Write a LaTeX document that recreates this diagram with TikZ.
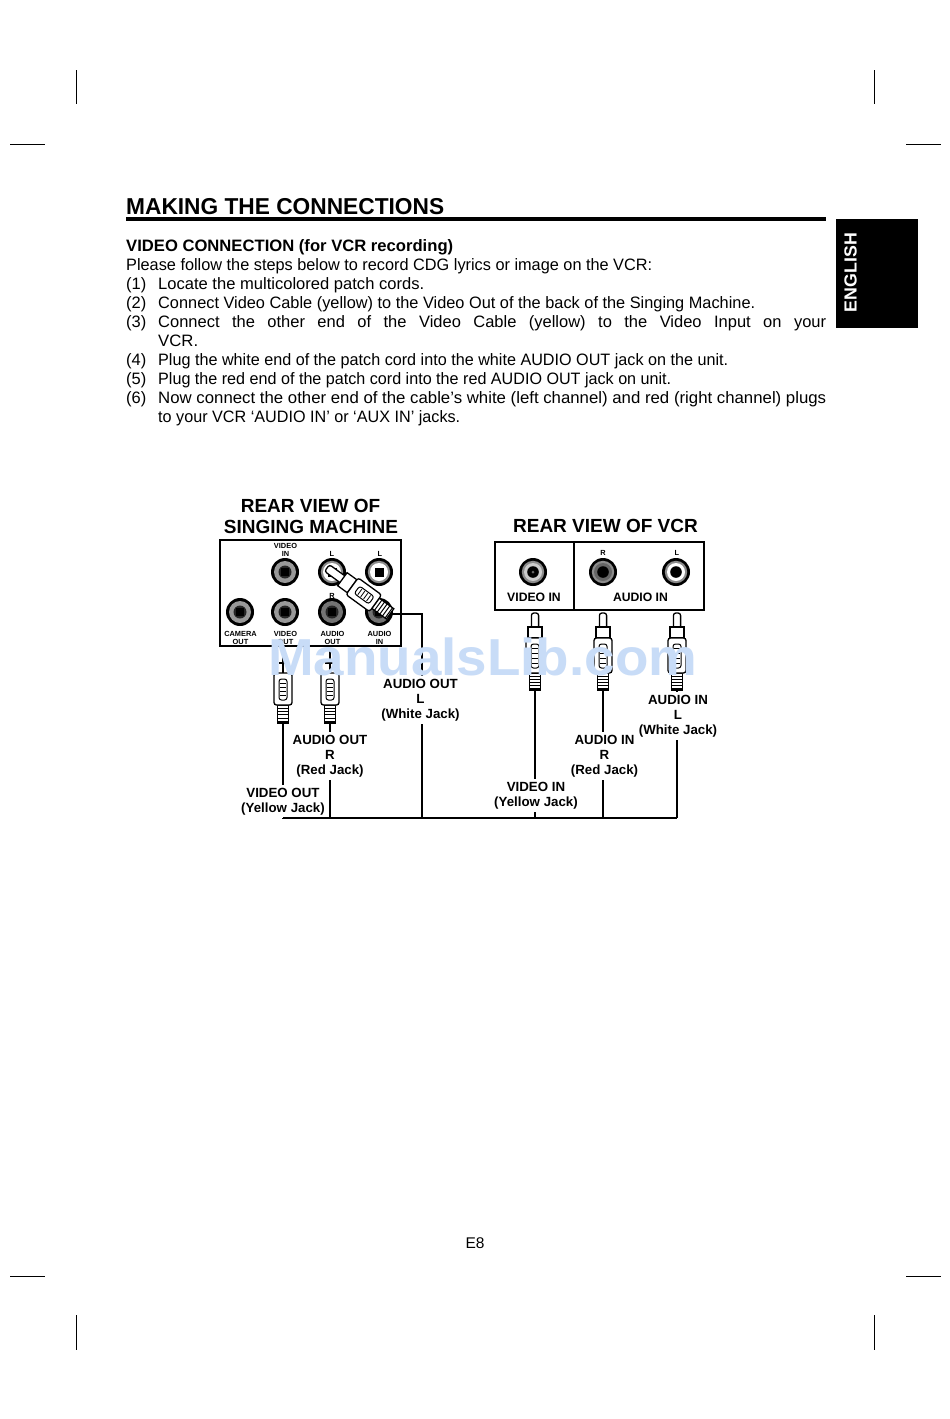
\documentclass[tikz,border=0pt]{standalone}
\usepackage{graphicx}
\usepackage{fontspec}
\setmainfont{Liberation Sans}
\tikzset{
  wire/.style={draw=black,line width=2pt},
  busline/.style={draw=black,line width=2.8pt},
  crop/.style={draw=black,line width=0.9pt},
  frame/.style={draw=black,line width=2pt},
  plugpart/.style={draw=black,fill=white,line width=1.3pt},
  bodytxt/.style={anchor=base west,inner sep=0pt,font=\fontsize{16.5}{19}\selectfont},
  lab/.style={anchor=north,align=center,inner xsep=0pt,inner ysep=3pt,font=\bfseries\fontsize{13.3}{15}\selectfont},
  tiny/.style={anchor=base,align=center,inner sep=0pt,font=\bfseries\fontsize{7.4}{9}\selectfont},
  panel/.style={anchor=base,inner sep=0pt,font=\bfseries\fontsize{12.2}{15}\selectfont},
  head/.style={anchor=base,inner sep=0pt,font=\bfseries\fontsize{19}{21}\selectfont},
}
\definecolor{wm}{RGB}{200,220,247}
% fitted line of text: name, x, baseline y, width, text
\newcommand{\fitline}[5]{\node[bodytxt] (#1) at (#2,#3) {\resizebox{#4pt}{\height}{#5}};}
\newcommand{\fitbold}[5]{\node[bodytxt] (#1) at (#2,#3) {\bfseries\resizebox{#4pt}{\height}{#5}};}
\newcommand{\justline}[5]{\node[bodytxt] (#1) at (#2,#3) {\makebox[#4pt][s]{#5}};}
% jacks: x, y, ring colour
\newcommand{\jackdark}[3]{%
  \fill[black] (#1,#2) circle (14);
  \fill[#3] (#1,#2) circle (11);
  \fill[black!85] (#1,#2) circle (6.5);
  \fill[black] (#1-4,#2-4) rectangle (#1+4,#2+4);}
\newcommand{\jacklight}[3]{%
  \fill[black] (#1,#2) circle (14);
  \fill[black!45] (#1,#2) circle (11.2);
  \fill[#3] (#1,#2) circle (9);
  \fill[black] (#1-4.5,#2-4.5) rectangle (#1+4.5,#2+4.5);}
\newcommand{\jackround}[3]{%
  \fill[black] (#1,#2) circle (14);
  \fill[black!45] (#1,#2) circle (11.2);
  \fill[#3] (#1,#2) circle (9);
  \fill[black] (#1,#2) circle (5.8);}
% plug parts, local y runs along the plug
\newcommand{\plugbody}[3]{% start y, body length, stripe length
  \pgfmathsetmacro{\pa}{#1}\pgfmathsetmacro{\pb}{#1+#2}\pgfmathsetmacro{\pc}{#1+#2+#3}
  \filldraw[plugpart] (-5.5,\pb) rectangle (5.5,\pc);
  \foreach \k in {1,2,3,4,5} {\draw[line width=1pt] (-5.5,{\pb+\k*#3/5.5}) -- (5.5,{\pb+\k*#3/5.5});}
  \filldraw[plugpart,rounded corners=2.5pt] (-9,\pa) rectangle (9,\pb);
  \filldraw[plugpart,line width=1pt,rounded corners=2.5pt] (-4,{\pa+6}) rectangle (4,{\pb-5});
  \foreach \k in {1,2,3,4} {\draw[line width=.8pt] (-3,{\pa+6+\k*(#2-11)/5}) -- (3,{\pa+6+\k*(#2-11)/5});}
}
\newcommand{\plughead}[2]{% pin length, collar length
  \filldraw[plugpart,rounded corners=2.5pt] (-3.6,0) rectangle (3.6,{#1+3});
  \filldraw[plugpart] (-7,#1) rectangle (7,{#1+#2});
}
\begin{document}
\begin{tikzpicture}[x=1pt,y=-1pt]
\useasboundingbox (0,0) rectangle (950,1419);
\fill[white] (0,0) rectangle (950,1419);

% crop marks
\foreach \cx in {76,874} {
  \draw[crop] (\cx,70) -- (\cx,104);
  \draw[crop] (\cx,1315) -- (\cx,1350);
}
\foreach \cy in {144,1276} {
  \draw[crop] (10,\cy) -- (45,\cy);
  \draw[crop] (906,\cy) -- (941,\cy);
}

% heading
\node[anchor=base west,inner sep=0pt,font=\bfseries\fontsize{23}{26}\selectfont] (title) at (126,214.5) {\resizebox{318pt}{\height}{MAKING THE CONNECTIONS}};
\coordinate (ruleL) at (126,218.5);
\coordinate (ruleR) at (826,218.5);
\draw[line width=4pt] (ruleL) -- (ruleR);
\fill[black] (836,219) rectangle (918,328);
\node[rotate=90,anchor=center,inner sep=0pt,text=white,font=\bfseries\fontsize{17.5}{20}\selectfont] (tab) at (850.5,272.5) {\resizebox{79pt}{\height}{ENGLISH}};

% body text
\fitbold{t0}{126}{251}{327}{VIDEO CONNECTION (for VCR recording)}
\fitline{t1}{126}{270.5}{526}{Please follow the steps below to record CDG lyrics or image on the VCR:}
\node[bodytxt] (n1) at (126,289.5) {(1)};
\fitline{t2}{158}{289.5}{266}{Locate the multicolored patch cords.}
\node[bodytxt] (n2) at (126,308.5) {(2)};
\fitline{t3}{158}{308.5}{597}{Connect Video Cable (yellow) to the Video Out of the back of the Singing Machine.}
\node[bodytxt] (n3) at (126,327.5) {(3)};
\justline{t4}{158}{327.5}{668}{Connect the other end of the Video Cable (yellow) to the Video Input on your}
\fitline{t5}{158}{346.5}{40}{VCR.}
\node[bodytxt] (n4) at (126,365.5) {(4)};
\fitline{t6}{158}{365.5}{570}{Plug the white end of the patch cord into the white AUDIO OUT jack on the unit.}
\node[bodytxt] (n5) at (126,384.5) {(5)};
\fitline{t7}{158}{384.5}{513}{Plug the red end of the patch cord into the red AUDIO OUT jack on unit.}
\node[bodytxt] (n6) at (126,403.5) {(6)};
\fitline{t8}{158}{403.5}{668}{Now connect the other end of the cable’s white (left channel) and red (right channel) plugs}
\fitline{t9}{158}{422.5}{302}{to your VCR ‘AUDIO IN’ or ‘AUX IN’ jacks.}

% headings of the diagram
\node[head] (h1) at (310.5,512) {REAR VIEW OF};
\node[head] (h2) at (311,533) {SINGING MACHINE};
\node[head] (h3) at (605.5,532) {REAR VIEW OF VCR};

% machine panel
\draw[frame] (220,539.5) rectangle (401,646);
\jackdark{285}{572}{black!40}
\jacklight{332}{572}{white}
\jacklight{379}{572}{white}
\jackdark{240}{612}{black!40}
\jackdark{285}{612}{black!40}
\jackdark{332}{612}{black!55}
\jackdark{379}{612}{black!55}
\node[tiny] (m1) at (285.5,556) {VIDEO\\[-1.5pt]IN};
\node[tiny] (m2) at (332,556) {L};
\node[tiny] (m3) at (380,556) {L};
\node[tiny] (m4) at (332,598) {R};
\node[tiny] (m5) at (240.5,644) {CAMERA\\[-1.5pt]OUT};
\node[tiny] (m6) at (285.5,644) {VIDEO\\[-1.5pt]OUT};
\node[tiny] (m7) at (332.5,644) {AUDIO\\[-1.5pt]OUT};
\node[tiny] (m8) at (379.5,644) {AUDIO\\[-1.5pt]IN};

% VCR panel
\draw[frame] (495,541.5) rectangle (704,610);
\coordinate (divT) at (574,541.5);
\coordinate (divB) at (574,610);
\draw[frame] (divT) -- (divB);
\jackround{533}{572}{black!20}
\jackround{603}{572}{black!60}
\jackround{676}{572}{white}
\fill[black!60] (533,572) circle (1.5);
\node[tiny] (v1) at (603,555) {R};
\node[tiny] (v2) at (677,555) {L};
\node[panel] (v3) at (534,601.5) {VIDEO IN};
\node[panel] (v4) at (640.5,601.5) {AUDIO IN};

% plug in the machine jack
\begin{scope}[shift={(327,568)},rotate=54,xscale=1.15]
  \plughead{19}{12}
  \plugbody{31}{29}{18}
\end{scope}
\coordinate (pDiag) at (391,613.5);

% hanging machine plugs
\coordinate (pinA) at (283,647);
\coordinate (pinAb) at (283,673);
\draw[line width=1.2pt] (pinA) -- (pinAb);
\draw[line width=1.2pt] (279,663) -- (287,663);
\begin{scope}[shift={(283,673)}]\plugbody{0}{32}{18}\end{scope}
\coordinate (pA) at (283,723);
\coordinate (pinB) at (330,650);
\coordinate (pinBb) at (330,673);
\draw[line width=1.2pt] (pinB) -- (pinBb);
\draw[line width=1.2pt] (325,663) -- (335,663);
\begin{scope}[shift={(330,673)}]\plugbody{0}{32}{18}\end{scope}
\coordinate (pB) at (330,723);

% hanging VCR plugs
\begin{scope}[shift={(535,613)}]\plughead{14}{11}\plugbody{25}{35}{17}\end{scope}
\coordinate (pC) at (535,690);
\begin{scope}[shift={(603,613)}]\plughead{14}{11}\plugbody{25}{35}{17}\end{scope}
\coordinate (pD) at (603,690);
\begin{scope}[shift={(677,613)}]\plughead{14}{11}\plugbody{25}{35}{17}\end{scope}
\coordinate (pE) at (677,690);

% labels of the cords
\node[lab] (aoL) at (420.5,676) {AUDIO OUT\\L\\(White Jack)};
\node[lab] (aoR) at (330,732) {AUDIO OUT\\R\\(Red Jack)};
\node[lab] (voY) at (283,785) {VIDEO OUT\\(Yellow Jack)};
\node[lab] (aiR) at (604.5,732) {AUDIO IN\\R\\(Red Jack)};
\node[lab] (aiL) at (678,692) {AUDIO IN\\L\\(White Jack)};
\node[lab] (viY) at (536,779) {VIDEO IN\\(Yellow Jack)};

% bus and cords
\coordinate (b1) at (283,818);
\coordinate (b2) at (330,818);
\coordinate (b3) at (422,818);
\coordinate (b4) at (535,818);
\coordinate (b5) at (603,818);
\coordinate (b6) at (677,818);
\coordinate (elbow) at (422,613.5);
\draw[busline] (b1) -- (b6);
\draw[wire] (pDiag) -- (elbow) -- (aoL.north -| elbow);
\draw[wire] (aoL.south -| elbow) -- (b3);
\draw[wire] (pA) -- (voY.north -| pA);
\draw[wire] (voY.south -| pA) -- (b1);
\draw[wire] (pB) -- (aoR.north -| pB);
\draw[wire] (aoR.south -| pB) -- (b2);
\draw[wire] (pC) -- (viY.north -| pC);
\draw[wire] (viY.south -| pC) -- (b4);
\draw[wire] (pD) -- (aiR.north -| pD);
\draw[wire] (aiR.south -| pD) -- (b5);
\draw[wire] (pE) -- (aiL.north -| pE);
\draw[wire] (aiL.south -| pE) -- (b6);

% page number
\node[anchor=base,inner sep=0pt,font=\fontsize{15.5}{18}\selectfont] (page) at (475,1248) {E8};

% watermark
\node[anchor=base west,inner sep=0pt,text=wm,font=\bfseries\fontsize{52}{56}\selectfont] (wmark) at (268,675) {\resizebox{429pt}{\height}{ManualsLib.com}};
\end{tikzpicture}
\end{document}
